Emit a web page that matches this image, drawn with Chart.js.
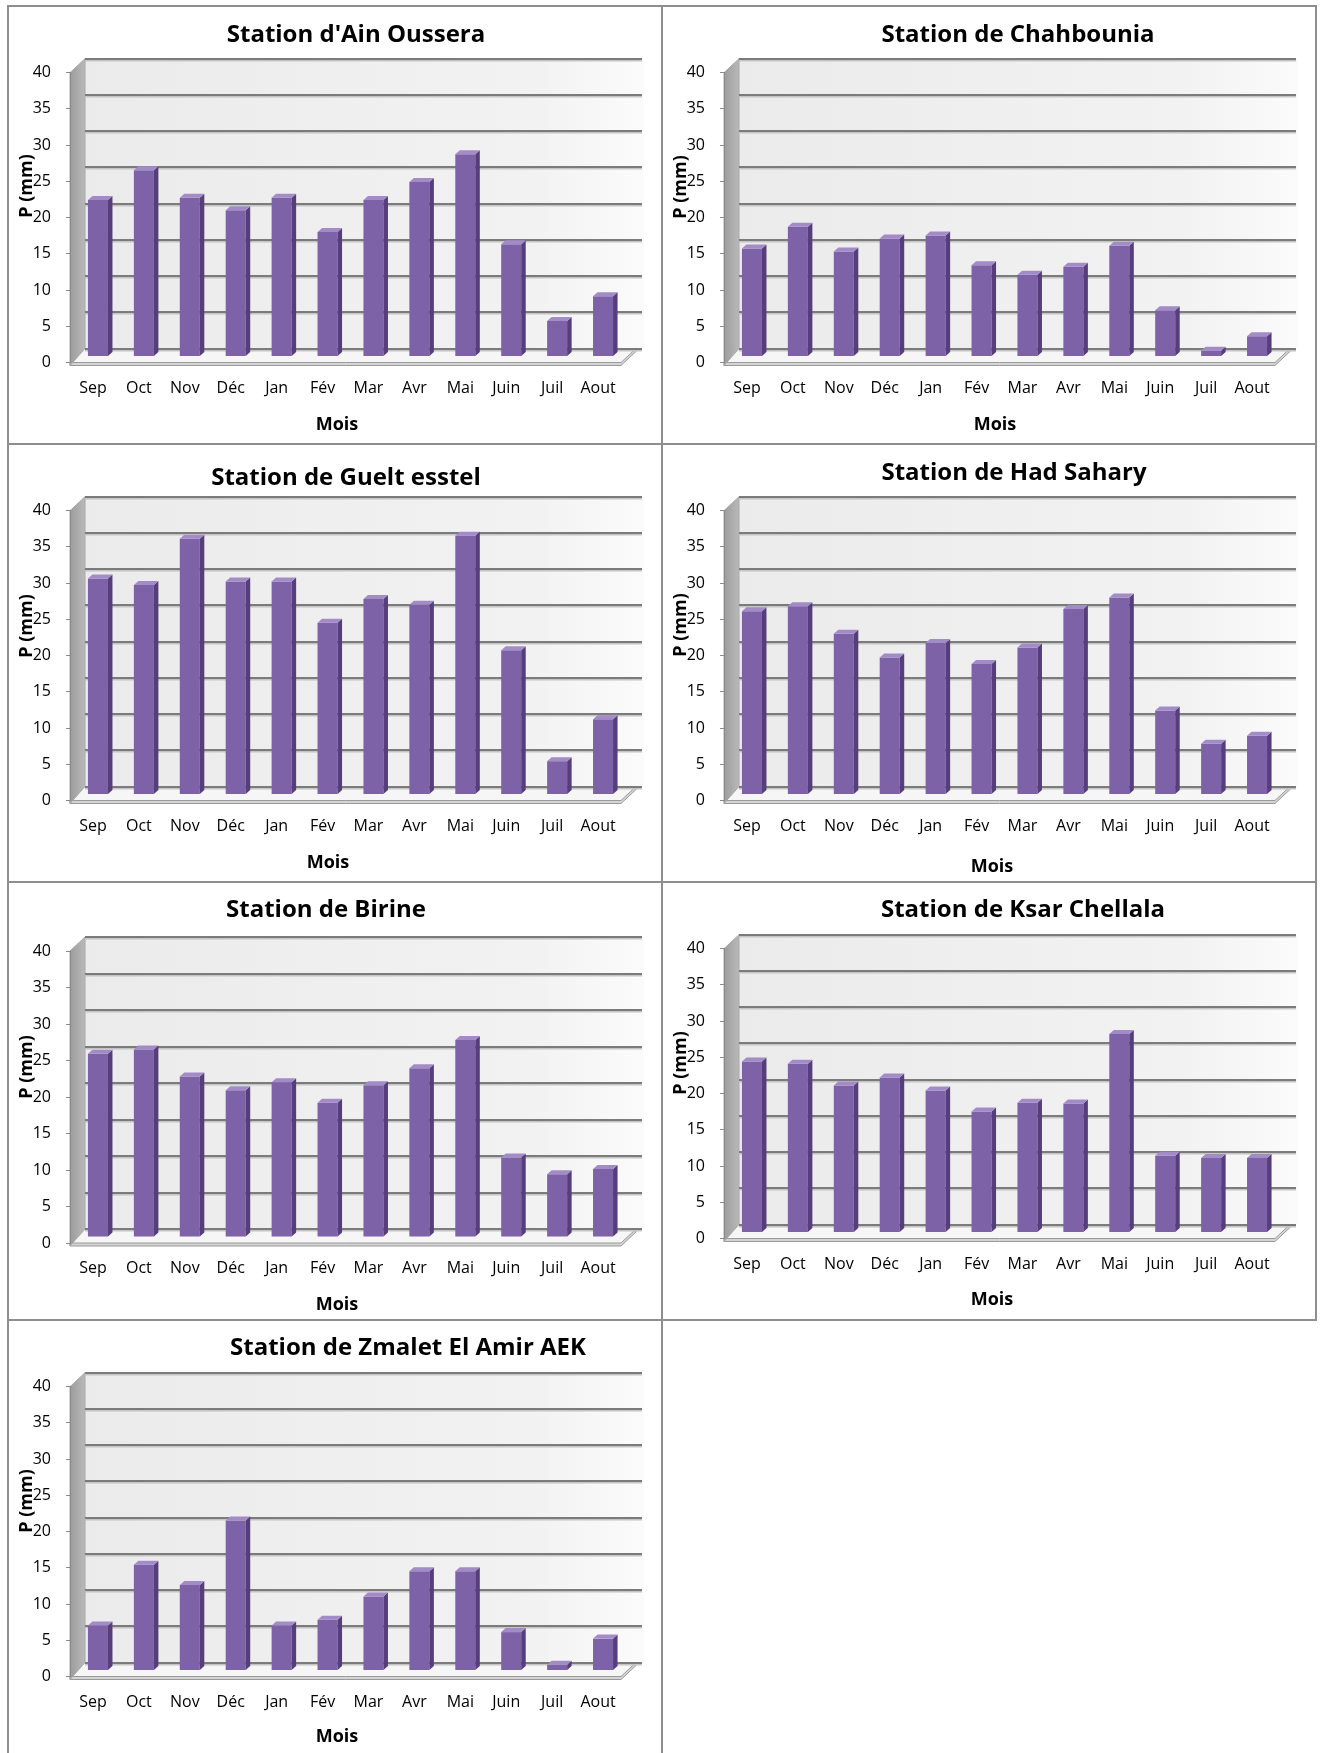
<!DOCTYPE html>
<html lang="fr">
<head>
<meta charset="utf-8">
<title>Précipitations moyennes mensuelles par station</title>
<script src="https://cdn.jsdelivr.net/npm/chart.js@4.4.1/dist/chart.umd.min.js"></script>
<style>
  html, body { margin: 0; padding: 0; background: #ffffff; }
  body { position: relative; width: 1321px; height: 1753px; overflow: hidden; }
  .frame { position: absolute; box-sizing: border-box; border: 2px solid #8e8e8e; }
  canvas { position: absolute; }
</style>
</head>
<body>
<script>
// ---- Data -------------------------------------------------------------
const months = ['Sep', 'Oct', 'Nov', 'Déc', 'Jan', 'Fév', 'Mar', 'Avr', 'Mai', 'Juin', 'Juil', 'Aout'];
const yTicks = [0, 5, 10, 15, 20, 25, 30, 35, 40];

const stationTitles = [
  "Station d'Ain Oussera",
  'Station de Chahbounia',
  'Station de Guelt esstel',
  'Station de Had Sahary',
  'Station de Birine',
  'Station de Ksar Chellala',
  'Station de Zmalet El Amir AEK'
];

// monthly precipitation, mm
const pAinOussera    = [21.6, 25.7, 21.9, 20.2, 21.9, 17.2, 21.6, 24.1, 27.9, 15.5, 4.9, 8.3];
const pChahbounia    = [14.9, 17.9, 14.5, 16.3, 16.7, 12.6, 11.3, 12.4, 15.3, 6.4, 0.8, 2.8];
const pGueltEsstel   = [29.8, 28.9, 35.3, 29.4, 29.4, 23.7, 27.0, 26.2, 35.7, 19.9, 4.6, 10.4];
const pHadSahary     = [25.3, 26.0, 22.2, 18.9, 20.9, 18.0, 20.3, 25.6, 27.2, 11.6, 7.0, 8.1];
const pBirine        = [25.1, 25.7, 22.0, 20.1, 21.2, 18.4, 20.8, 23.1, 27.0, 10.9, 8.6, 9.3];
const pKsarChellala  = [23.6, 23.3, 20.3, 21.4, 19.6, 16.7, 17.9, 17.8, 27.4, 10.6, 10.3, 10.3];
const pZmaletElAmir  = [6.2, 14.6, 11.8, 20.7, 6.2, 7.0, 10.2, 13.7, 13.7, 5.3, 0.8, 4.4];

const stationSeries = [pAinOussera, pChahbounia, pGueltEsstel, pHadSahary, pBirine, pKsarChellala, pZmaletElAmir];

// ---- Page layout -------------------------------------------------------
const colX = [8, 662];
const rowY = [6, 444, 882, 1320];
const CANVAS_W = 650, CANVAS_H = 436;
const PLOT_LEFT = 62, PLOT_RIGHT = 613;

const panelLayout = [
  { col: 0, row: 0, top: 66.7, bottom: 356.5, titleX: 348, titleY: 36, moisX: 329, moisY: 424, yTitleY: 180 },
  { col: 1, row: 0, top: 66.7, bottom: 356.5, titleX: 356, titleY: 36, moisX: 333, moisY: 424, yTitleY: 181 },
  { col: 0, row: 1, top: 66.7, bottom: 356.5, titleX: 338, titleY: 41, moisX: 320, moisY: 424, yTitleY: 182 },
  { col: 1, row: 1, top: 66.7, bottom: 356.5, titleX: 352, titleY: 36, moisX: 330, moisY: 428, yTitleY: 181 },
  { col: 0, row: 2, top: 69.0, bottom: 361.0, titleX: 318, titleY: 35, moisX: 329, moisY: 428, yTitleY: 185 },
  { col: 1, row: 2, top: 66.7, bottom: 356.5, titleX: 361, titleY: 35, moisX: 330, moisY: 423, yTitleY: 181 },
  { col: 0, row: 3, top: 66.7, bottom: 356.5, titleX: 400, titleY: 35, moisX: 329, moisY: 422, yTitleY: 181 }
];

// ---- 3D look -----------------------------------------------------------
const WALL_DX = 15, WALL_DY = 14;      // depth of the walls
const BAR_SHIFT_X = 5, BAR_SHIFT_Y = 6; // bars stand in the middle of the depth
const BAR_DX = 4.5, BAR_DY = 4;        // depth of each column
const COL_FRONT = '#7e62a7';
const COL_SIDE = '#563d7b';
const COL_TOP = '#a28bc6';

const box3d = {
  id: 'box3d',
  beforeDraw(chart) {
    const { ctx, chartArea: a, scales: { y } } = chart;
    const L = a.left, R = a.right, T = a.top, B = a.bottom;
    ctx.save();

    // back wall
    const gw = ctx.createLinearGradient(L + WALL_DX, 0, R + WALL_DX + 8, 0);
    gw.addColorStop(0, '#ebebeb');
    gw.addColorStop(0.8, '#f2f2f2');
    gw.addColorStop(1, '#fbfbfb');
    ctx.fillStyle = gw;
    ctx.fillRect(L + WALL_DX, T - WALL_DY, R - L + 8, B - T);

    // floor
    ctx.beginPath();
    ctx.moveTo(L, B);
    ctx.lineTo(R, B);
    ctx.lineTo(R + WALL_DX, B - WALL_DY);
    ctx.lineTo(L + WALL_DX, B - WALL_DY);
    ctx.closePath();
    ctx.fillStyle = '#f6f6f6';
    ctx.fill();
    ctx.fillStyle = '#d4d4d4';
    ctx.beginPath();
    ctx.moveTo(L, B);
    ctx.lineTo(R, B);
    ctx.lineTo(R + WALL_DX, B - WALL_DY);
    ctx.lineTo(R + WALL_DX, B - WALL_DY + 3);
    ctx.lineTo(R, B + 3);
    ctx.lineTo(L, B + 3);
    ctx.closePath();
    ctx.fill();
    ctx.strokeStyle = '#9a9a9a';
    ctx.lineWidth = 1;
    ctx.stroke();

    // left wall
    const gs = ctx.createLinearGradient(L, 0, L + WALL_DX, 0);
    gs.addColorStop(0, '#9c9c9c');
    gs.addColorStop(1, '#b9b9b9');
    ctx.beginPath();
    ctx.moveTo(L, B + 3);
    ctx.lineTo(L, T);
    ctx.lineTo(L + WALL_DX, T - WALL_DY);
    ctx.lineTo(L + WALL_DX, B - WALL_DY);
    ctx.closePath();
    ctx.fillStyle = gs;
    ctx.fill();
    ctx.strokeStyle = '#a8a8a8';
    ctx.stroke();

    // gridlines on the back wall, one per tick of the value scale
    y.ticks.forEach(t => {
      const py = Math.round(y.getPixelForValue(t.value) - WALL_DY);
      ctx.fillStyle = '#c4c4c4';
      ctx.fillRect(L + WALL_DX, py + 1, R - L + 6, 1.5);
      ctx.fillStyle = '#7b7b7b';
      ctx.fillRect(L + WALL_DX, py - 1, R - L + 6, 2);
    });
    ctx.restore();
  },
  beforeDatasetsDraw(chart) {
    chart.ctx.save();
    chart.ctx.translate(BAR_SHIFT_X, -BAR_SHIFT_Y);
  },
  afterDatasetsDraw(chart) {
    const ctx = chart.ctx;
    ctx.restore();
    ctx.save();
    chart.getDatasetMeta(0).data.forEach(bar => {
      const { x, y, base, width } = bar.getProps(['x', 'y', 'base', 'width'], true);
      const l = x - width / 2 + BAR_SHIFT_X;
      const r = x + width / 2 + BAR_SHIFT_X;
      const t = y - BAR_SHIFT_Y;
      const b = base - BAR_SHIFT_Y;
      // side face
      ctx.beginPath();
      ctx.moveTo(r, t);
      ctx.lineTo(r + BAR_DX, t - BAR_DY);
      ctx.lineTo(r + BAR_DX, b - BAR_DY);
      ctx.lineTo(r, b);
      ctx.closePath();
      ctx.fillStyle = COL_SIDE;
      ctx.fill();
      // top face
      ctx.beginPath();
      ctx.moveTo(l, t);
      ctx.lineTo(l + BAR_DX, t - BAR_DY);
      ctx.lineTo(r + BAR_DX, t - BAR_DY);
      ctx.lineTo(r, t);
      ctx.closePath();
      ctx.fillStyle = COL_TOP;
      ctx.fill();
    });
    ctx.restore();
  }
};

// titles: chart title, value-axis title and category-axis title
const panelText = {
  id: 'panelText',
  afterDraw(chart, args, opts) {
    const ctx = chart.ctx;
    ctx.save();
    ctx.fillStyle = '#000000';
    ctx.textAlign = 'center';
    ctx.textBaseline = 'alphabetic';
    ctx.font = "bold 24px 'Open Sans'";
    ctx.fillText(opts.title, opts.titleX, opts.titleY);
    ctx.font = "bold 18px 'Open Sans'";
    ctx.fillText(opts.xTitle, opts.moisX, opts.moisY);
    ctx.translate(19, opts.yTitleY);
    ctx.rotate(-Math.PI / 2);
    ctx.textBaseline = 'middle';
    ctx.fillText(opts.yTitle, 0, 0);
    ctx.restore();
  }
};

Chart.defaults.font.family = "'Open Sans', sans-serif";
Chart.defaults.color = '#000000';

// ---- Frames --------------------------------------------------------------
panelLayout.forEach((lay, i) => {
  const f = document.createElement('div');
  f.className = 'frame';
  f.style.left = (colX[lay.col] - 1) + 'px';
  f.style.top = (rowY[lay.row] - 1) + 'px';
  f.style.width = (lay.col === 0 ? 656 : 656) + 'px';
  f.style.height = (lay.row === 3 ? 470 : 440) + 'px';
  document.body.appendChild(f);
});

// ---- Charts --------------------------------------------------------------
panelLayout.forEach((lay, i) => {
  const canvas = document.createElement('canvas');
  canvas.width = CANVAS_W;
  canvas.height = CANVAS_H;
  canvas.style.left = colX[lay.col] + 'px';
  canvas.style.top = rowY[lay.row] + 'px';
  document.body.appendChild(canvas);

  new Chart(canvas, {
    type: 'bar',
    data: {
      labels: months,
      datasets: [{
        label: stationTitles[i],
        data: stationSeries[i],
        backgroundColor: COL_FRONT,
        borderWidth: 0,
        categoryPercentage: 1,
        barPercentage: 0.436,
        clip: false
      }]
    },
    options: {
      responsive: false,
      animation: false,
      devicePixelRatio: 1,
      layout: { padding: { top: lay.top, right: CANVAS_W - PLOT_RIGHT, left: 0, bottom: 0 } },
      plugins: {
        legend: { display: false },
        tooltip: { enabled: false },
        title: { display: false },
        panelText: {
          title: stationTitles[i],
          xTitle: 'Mois',
          yTitle: 'P (mm)',
          titleX: lay.titleX, titleY: lay.titleY,
          moisX: lay.moisX, moisY: lay.moisY,
          yTitleY: lay.yTitleY
        }
      },
      scales: {
        x: {
          grid: { display: false, drawTicks: false },
          border: { display: false },
          ticks: { padding: 16, color: '#000000', font: { size: 16 }, maxRotation: 0, autoSkip: false },
          afterFit: s => { s.height = CANVAS_H - lay.bottom; }
        },
        y: {
          min: yTicks[0],
          max: yTicks[yTicks.length - 1],
          afterBuildTicks: s => { s.ticks = yTicks.map(v => ({ value: v })); },
          ticks: { padding: 15, color: '#000000', font: { size: 16 } },
          grid: { drawOnChartArea: false, drawTicks: true, tickLength: 4, color: '#8a8a8a' },
          border: { color: '#8a8a8a', width: 1 },
          afterFit: s => { s.width = PLOT_LEFT; }
        }
      }
    },
    plugins: [box3d, panelText]
  });
});
</script>
</body>
</html>
